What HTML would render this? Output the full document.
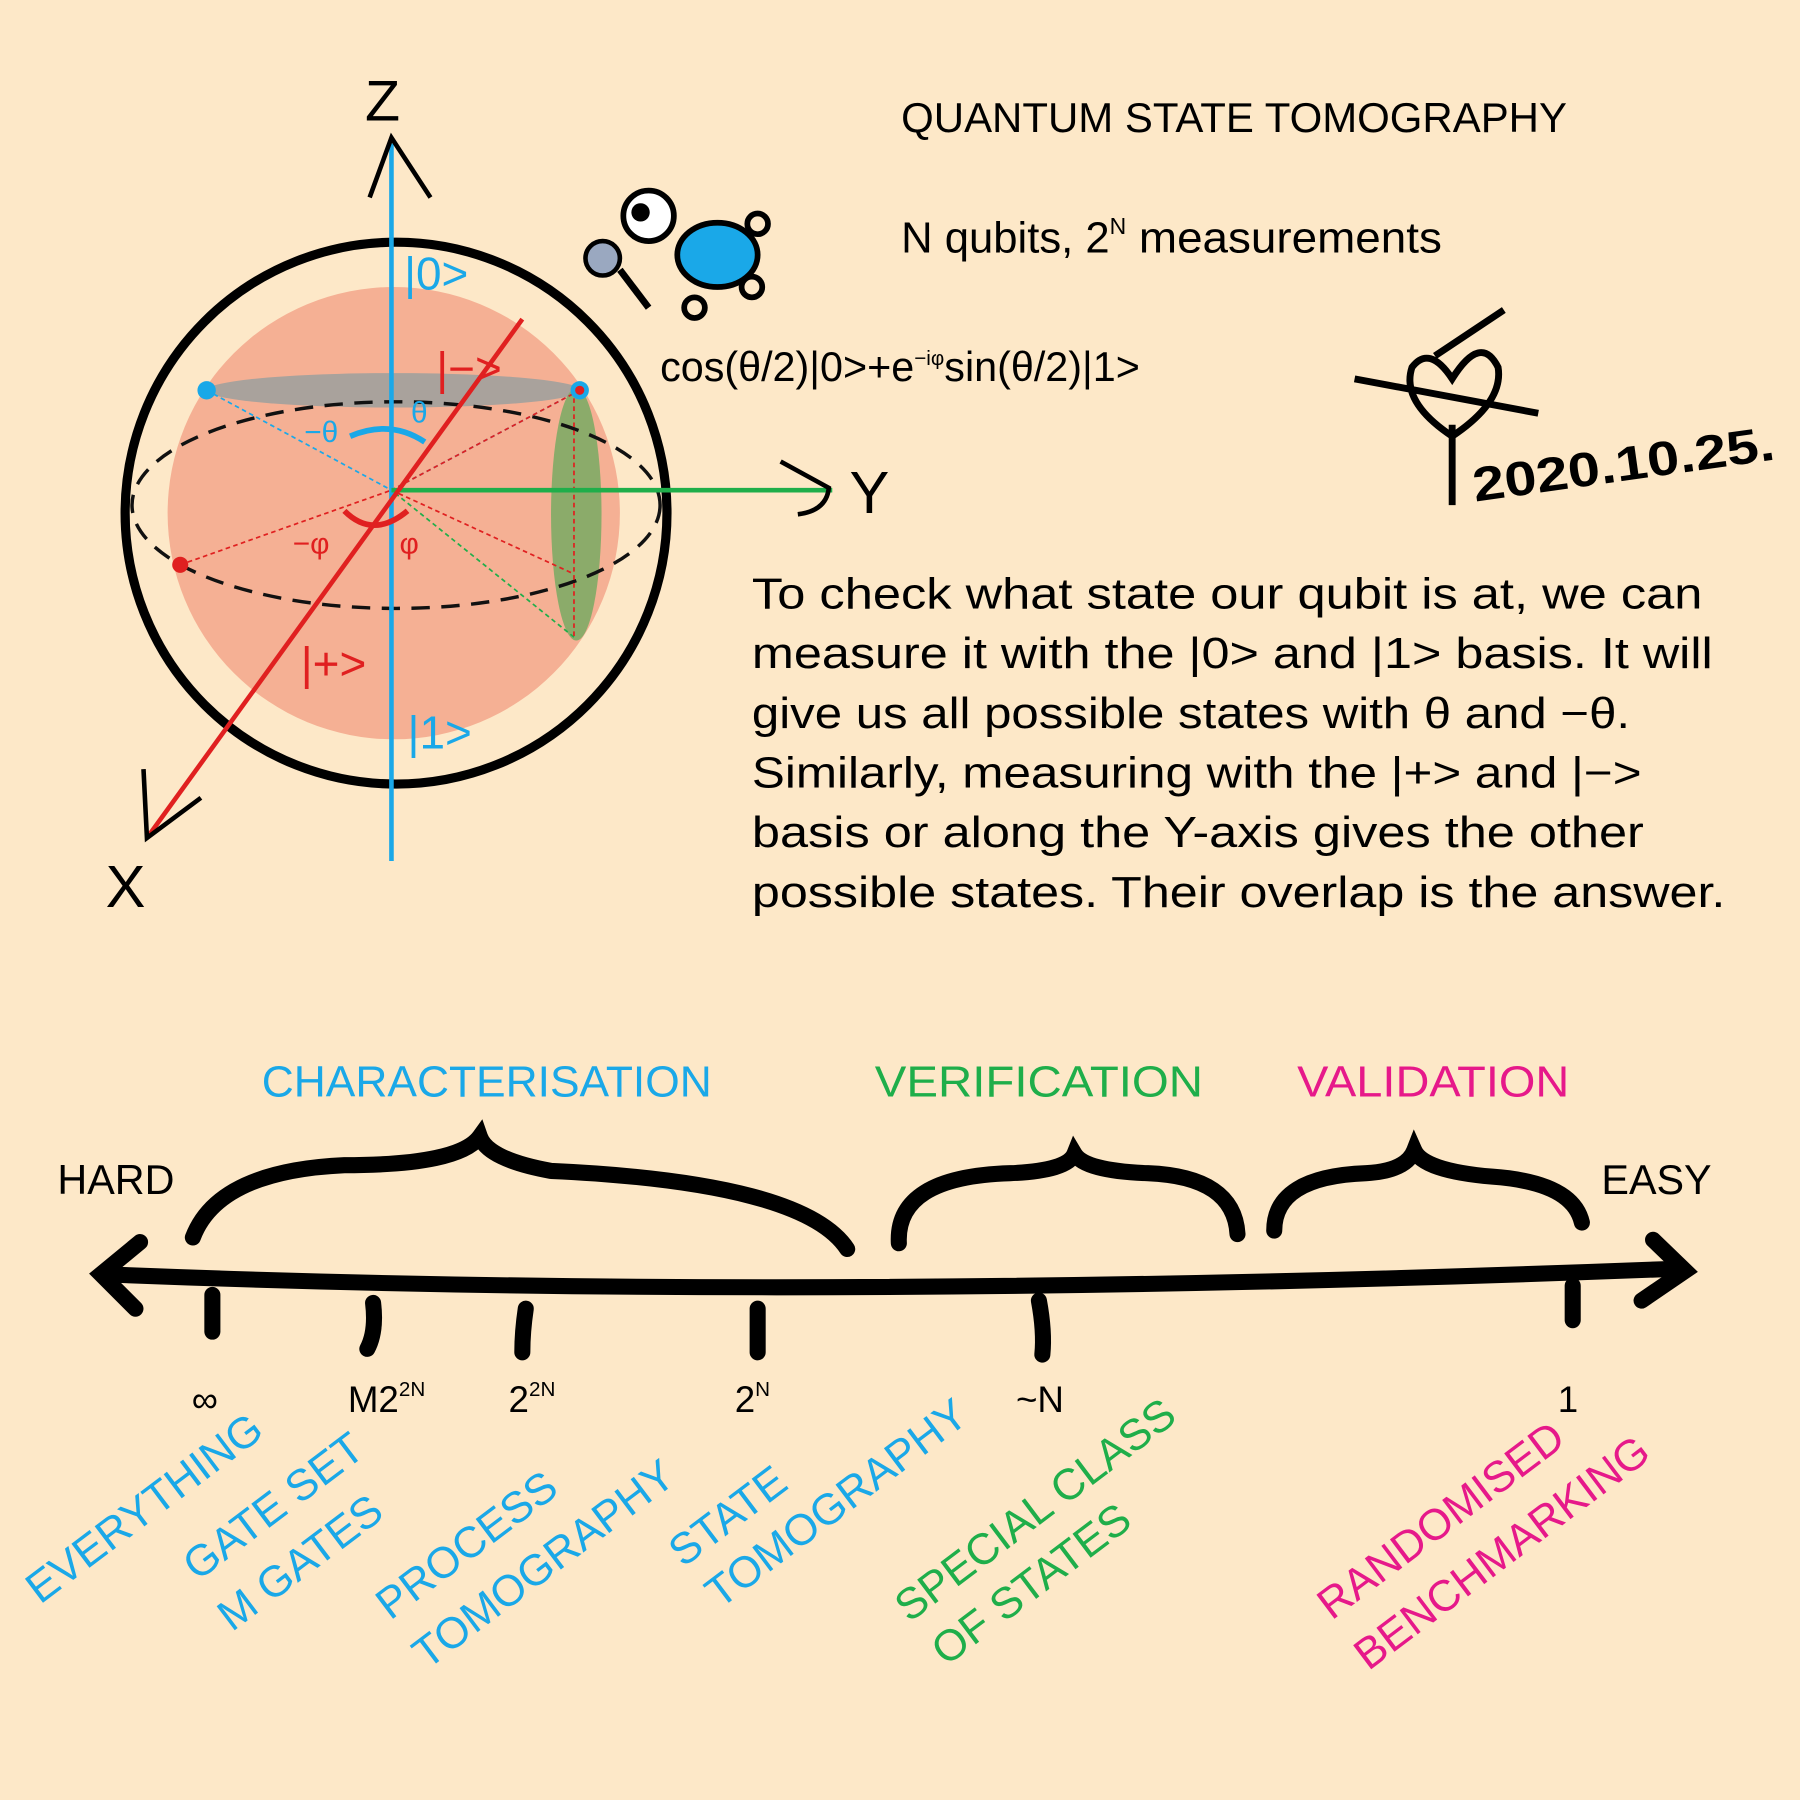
<!DOCTYPE html>
<html><head><meta charset="utf-8"><style>
html,body{margin:0;padding:0;background:#fde8c8;}
svg{display:block;}
text{font-family:"Liberation Sans","DejaVu Sans",sans-serif;}
</style></head><body>
<svg width="1800" height="1800" viewBox="0 0 1568 1568" xmlns="http://www.w3.org/2000/svg">
<rect width="1568" height="1568" fill="#fde8c8"/>
<circle cx="343" cy="447" r="197" fill="#f5b094"/>
<ellipse cx="343" cy="340" rx="163" ry="15" fill="#a9a29c"/>
<ellipse cx="502" cy="448" rx="22" ry="110" fill="#8bab6a"/>
<ellipse cx="345" cy="440" rx="230" ry="90" fill="none" stroke="#111" stroke-width="3" stroke-dasharray="16 10"/>
<circle cx="345" cy="447" r="236" fill="none" stroke="#000" stroke-width="8"/>
<g stroke-width="1.5" stroke-dasharray="4 3" fill="none">
<line x1="180" y1="340" x2="341" y2="427" stroke="#1aa8e8"/>
<line x1="505" y1="340" x2="341" y2="427" stroke="#1aa8e8"/>
<line x1="157" y1="492" x2="341" y2="427" stroke="#e02020"/>
<line x1="505" y1="340" x2="341" y2="427" stroke="#e02020"/>
<line x1="500" y1="555" x2="341" y2="427" stroke="#1fae4a"/>
<line x1="500" y1="340" x2="500" y2="555" stroke="#e02020"/>
<line x1="341" y1="427" x2="500" y2="500" stroke="#e02020"/>
</g>
<line x1="341" y1="125" x2="341" y2="750" stroke="#1aa8e8" stroke-width="4"/>
<polyline points="322,172 341,120 375,172" fill="none" stroke="#000" stroke-width="4"/>
<line x1="341" y1="427" x2="725" y2="427" stroke="#1fae4a" stroke-width="4"/>
<path d="M680,402 L722,425 Q720,445 695,448" fill="none" stroke="#000" stroke-width="4"/>
<line x1="455" y1="278" x2="128" y2="730" stroke="#e02020" stroke-width="4"/>
<polyline points="125,670 128,730 175,695" fill="none" stroke="#000" stroke-width="4"/>
<path d="M305,380 Q340,365 370,385" fill="none" stroke="#1aa8e8" stroke-width="5"/>
<path d="M300,445 Q325,470 355,445" fill="none" stroke="#e02020" stroke-width="5"/>
<circle cx="180" cy="340" r="8" fill="#1aa8e8"/>
<circle cx="505" cy="340" r="8" fill="#1aa8e8"/>
<circle cx="505" cy="340" r="4" fill="#e02020"/>
<circle cx="157" cy="492" r="7" fill="#e02020"/>
<text x="318" y="105" font-size="50">Z</text>
<text x="740" y="447" font-size="52">Y</text>
<text x="92" y="790" font-size="52">X</text>
<text x="352" y="252" font-size="40" fill="#1aa8e8">|0&gt;</text>
<text x="355" y="652" font-size="40" fill="#1aa8e8">|1&gt;</text>
<text x="262" y="592" font-size="40" fill="#e02020">|+&gt;</text>
<text x="380" y="335" font-size="40" fill="#e02020">|−&gt;</text>
<text x="265" y="385" font-size="26" fill="#1aa8e8">−θ</text>
<text x="358" y="368" font-size="26" fill="#1aa8e8">θ</text>
<text x="255" y="482" font-size="26" fill="#e02020">−φ</text>
<text x="348" y="482" font-size="26" fill="#e02020">φ</text>
<ellipse cx="625" cy="222" rx="35" ry="28" fill="#1aa8e8" stroke="#000" stroke-width="5"/>
<circle cx="565" cy="188" r="22" fill="#fff" stroke="#000" stroke-width="5"/>
<circle cx="558" cy="185" r="8" fill="#000"/>
<circle cx="525" cy="225" r="15" fill="#9aa8c0" stroke="#000" stroke-width="4"/>
<line x1="540" y1="235" x2="565" y2="268" stroke="#000" stroke-width="6"/>
<circle cx="660" cy="195" r="9" fill="none" stroke="#000" stroke-width="5"/>
<circle cx="655" cy="250" r="9" fill="none" stroke="#000" stroke-width="5"/>
<circle cx="605" cy="268" r="9" fill="none" stroke="#000" stroke-width="5"/>
<text x="785" y="115" font-size="36" textLength="580" lengthAdjust="spacingAndGlyphs">QUANTUM STATE TOMOGRAPHY</text>
<text x="785" y="220" font-size="38">N qubits, 2<tspan font-size="20" dy="-16">N</tspan><tspan dy="16" textLength="275" lengthAdjust="spacingAndGlyphs"> measurements</tspan></text>
<text x="575" y="332" font-size="36">cos(θ/2)|0&gt;+e<tspan font-size="18" dy="-14">−iφ</tspan><tspan dy="14">sin(θ/2)|1&gt;</tspan></text>
<path d="M1265,440 L1265,370 M1265,380 Q1220,350 1230,320 Q1245,300 1265,330 Q1290,290 1305,320 Q1310,350 1265,380 M1180,330 L1340,360 M1250,310 L1310,270" fill="none" stroke="#000" stroke-width="6"/>
<text x="1285" y="437" font-size="42" font-weight="bold" transform="rotate(-8 1285 437)" textLength="265" lengthAdjust="spacingAndGlyphs">2020.10.25.</text>
<g font-size="38">
<text x="655" y="530" textLength="828" lengthAdjust="spacingAndGlyphs">To check what state our qubit is at, we can</text>
<text x="655" y="582" textLength="837" lengthAdjust="spacingAndGlyphs">measure it with the |0&gt; and |1&gt; basis. It will</text>
<text x="655" y="634" textLength="765" lengthAdjust="spacingAndGlyphs">give us all possible states with θ and −θ.</text>
<text x="655" y="686" textLength="775" lengthAdjust="spacingAndGlyphs">Similarly, measuring with the |+&gt; and |−&gt;</text>
<text x="655" y="738" textLength="777" lengthAdjust="spacingAndGlyphs">basis or along the Y-axis gives the other</text>
<text x="655" y="790" textLength="848" lengthAdjust="spacingAndGlyphs">possible states. Their overlap is the answer.</text>
</g>
<text x="228" y="955" font-size="38" fill="#1aa8e8" textLength="392" lengthAdjust="spacingAndGlyphs">CHARACTERISATION</text>
<text x="762" y="955" font-size="38" fill="#1fae4a" textLength="286" lengthAdjust="spacingAndGlyphs">VERIFICATION</text>
<text x="1130" y="955" font-size="38" fill="#e6198a" textLength="237" lengthAdjust="spacingAndGlyphs">VALIDATION</text>
<text x="50" y="1040" font-size="36">HARD</text>
<text x="1395" y="1040" font-size="36">EASY</text>
<g fill="none" stroke="#000" stroke-width="14" stroke-linecap="round">
<path d="M90,1110 Q700,1135 1465,1105"/>
<polyline points="122,1082 88,1110 118,1140"/>
<polyline points="1440,1080 1468,1107 1430,1133"/>
<path d="M185,1128 L185,1160"/>
<path d="M325,1135 Q328,1160 320,1175"/>
<path d="M458,1140 Q455,1160 455,1178"/>
<path d="M660,1140 L660,1178"/>
<path d="M905,1133 Q910,1160 908,1180"/>
<path d="M1370,1120 L1370,1150"/>
<path d="M168,1078 Q190,1020 300,1015 Q400,1015 418,990 Q425,1010 480,1020 Q700,1030 738,1088"/>
<path d="M783,1083 Q780,1025 880,1022 Q930,1020 936,1005 Q945,1020 1000,1022 Q1075,1025 1078,1075"/>
<path d="M1110,1072 Q1110,1025 1190,1022 Q1225,1020 1232,1002 Q1240,1020 1300,1025 Q1370,1030 1378,1065"/>
</g>
<g font-size="32">
<text x="167" y="1230">∞</text>
<text x="303" y="1230">M2<tspan font-size="18" dy="-14">2N</tspan></text>
<text x="443" y="1230">2<tspan font-size="18" dy="-14">2N</tspan></text>
<text x="640" y="1230">2<tspan font-size="18" dy="-14">N</tspan></text>
<text x="885" y="1230">~N</text>
<text x="1357" y="1230">1</text>
</g>
<g font-size="38">
<text x="35" y="1398" fill="#1aa8e8" transform="rotate(-37 35 1398)">EVERYTHING</text>
<text x="172" y="1378" fill="#1aa8e8" transform="rotate(-37 172 1378)">GATE SET</text>
<text x="202" y="1422" fill="#1aa8e8" transform="rotate(-37 202 1422)">M GATES</text>
<text x="340" y="1412" fill="#1aa8e8" transform="rotate(-37 340 1412)">PROCESS</text>
<text x="372" y="1455" fill="#1aa8e8" transform="rotate(-37 372 1455)">TOMOGRAPHY</text>
<text x="595" y="1366" fill="#1aa8e8" transform="rotate(-37 595 1366)">STATE</text>
<text x="627" y="1402" fill="#1aa8e8" transform="rotate(-37 627 1402)">TOMOGRAPHY</text>
<text x="792" y="1414" fill="#1fae4a" transform="rotate(-37 792 1414)">SPECIAL CLASS</text>
<text x="824" y="1452" fill="#1fae4a" transform="rotate(-37 824 1452)">OF STATES</text>
<text x="1160" y="1412" fill="#e6198a" transform="rotate(-37 1160 1412)">RANDOMISED</text>
<text x="1192" y="1456" fill="#e6198a" transform="rotate(-37 1192 1456)">BENCHMARKING</text>
</g>
</svg>
</body></html>
